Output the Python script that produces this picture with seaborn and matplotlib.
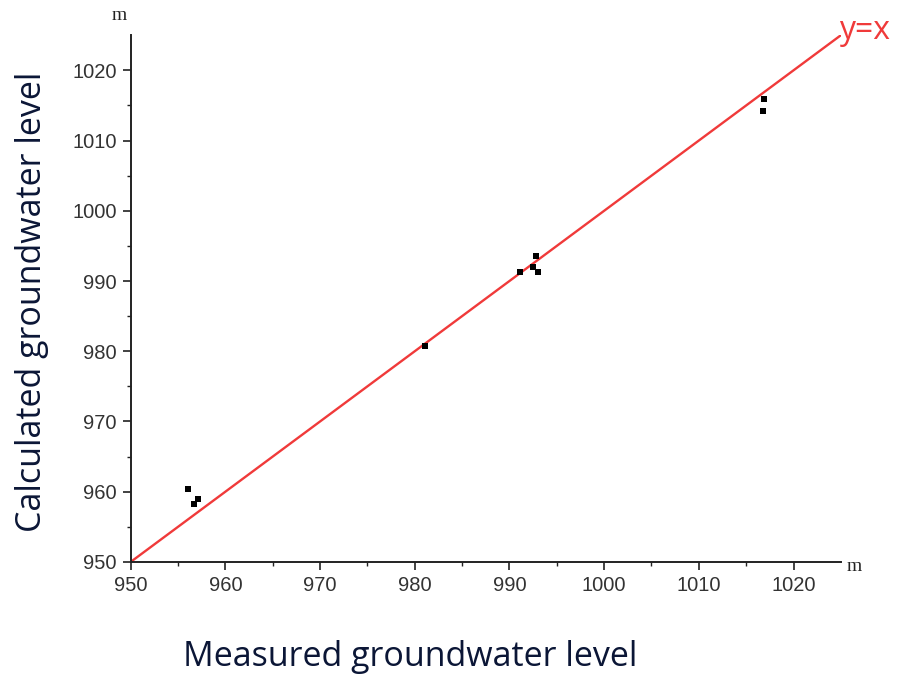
import matplotlib
matplotlib.use("Agg")
import matplotlib.pyplot as plt
import seaborn as sns
import pandas as pd
import numpy as np

measured = [956.1, 956.7, 957.1, 981.1, 991.1, 992.8, 992.5, 993.0, 1016.9, 1016.8]
calculated = [960.4, 958.3, 959.0, 980.7, 991.3, 993.5, 992.0, 991.3, 1015.9, 1014.2]
line_vals = [950, 1025]
ticks = [950, 960, 970, 980, 990, 1000, 1010, 1020]

df = pd.DataFrame({"measured": measured, "calculated": calculated})
line_df = pd.DataFrame({"x": line_vals, "y": line_vals})

sns.set_theme(style="ticks")
plt.rcParams['font.family'] = ['Liberation Sans', 'DejaVu Sans']

fig = plt.figure(figsize=(9.14, 6.77), dpi=100)
ax = fig.add_axes([0.143, 0.170, 0.777, 0.778])

sns.lineplot(data=line_df, x="x", y="y", color="#f03a3a", linewidth=1.7, ax=ax)
sns.scatterplot(data=df, x="measured", y="calculated", marker="s", s=20,
                color="black", edgecolor="black", linewidth=0, ax=ax, zorder=3)

ax.set_xlim(950, 1025)
ax.set_ylim(950, 1025)
ax.set_xticks(ticks)
ax.set_yticks(ticks)
ax.set_xticklabels([str(t) for t in ticks])
ax.set_yticklabels([str(t) for t in ticks])
ax.set_xticks(np.arange(955, 1025, 10), minor=True)
ax.set_yticks(np.arange(955, 1025, 10), minor=True)
ax.tick_params(axis="both", which="major", direction="out", length=6, width=1.2,
               labelsize=14.5, colors="#222222", labelcolor="#333333", pad=4)
ax.tick_params(axis="both", which="minor", direction="out", length=3, width=1.0, colors="#222222")
for s in ["top", "right"]:
    ax.spines[s].set_visible(False)
for s in ["left", "bottom"]:
    ax.spines[s].set_linewidth(1.4)
    ax.spines[s].set_color("#222222")

ax.set_xlabel("")
ax.set_ylabel("")
fig.text(0.449, 0.016, "Measured groundwater level", fontsize=24.5, color="#0b1636",
         family=["Open Sans", "DejaVu Sans"], ha="center", va="baseline")
fig.text(0.016, 0.554, "Calculated groundwater level", fontsize=24.5, color="#0b1636",
         family=["Open Sans", "DejaVu Sans"], rotation=90, ha="left", va="center")
fig.text(0.131, 0.965, "m", fontsize=14, family=["Liberation Serif", "DejaVu Serif"],
         color="#222222", ha="center", va="bottom")
fig.text(0.926, 0.163, "m", fontsize=14, family=["Liberation Serif", "DejaVu Serif"],
         color="#222222", ha="left", va="center")
fig.text(0.918, 0.955, "y=x", fontsize=23, color="#f03a3a",
         family=["Open Sans", "DejaVu Sans"], ha="left", va="center")

fig.savefig("out.png", dpi=100)
